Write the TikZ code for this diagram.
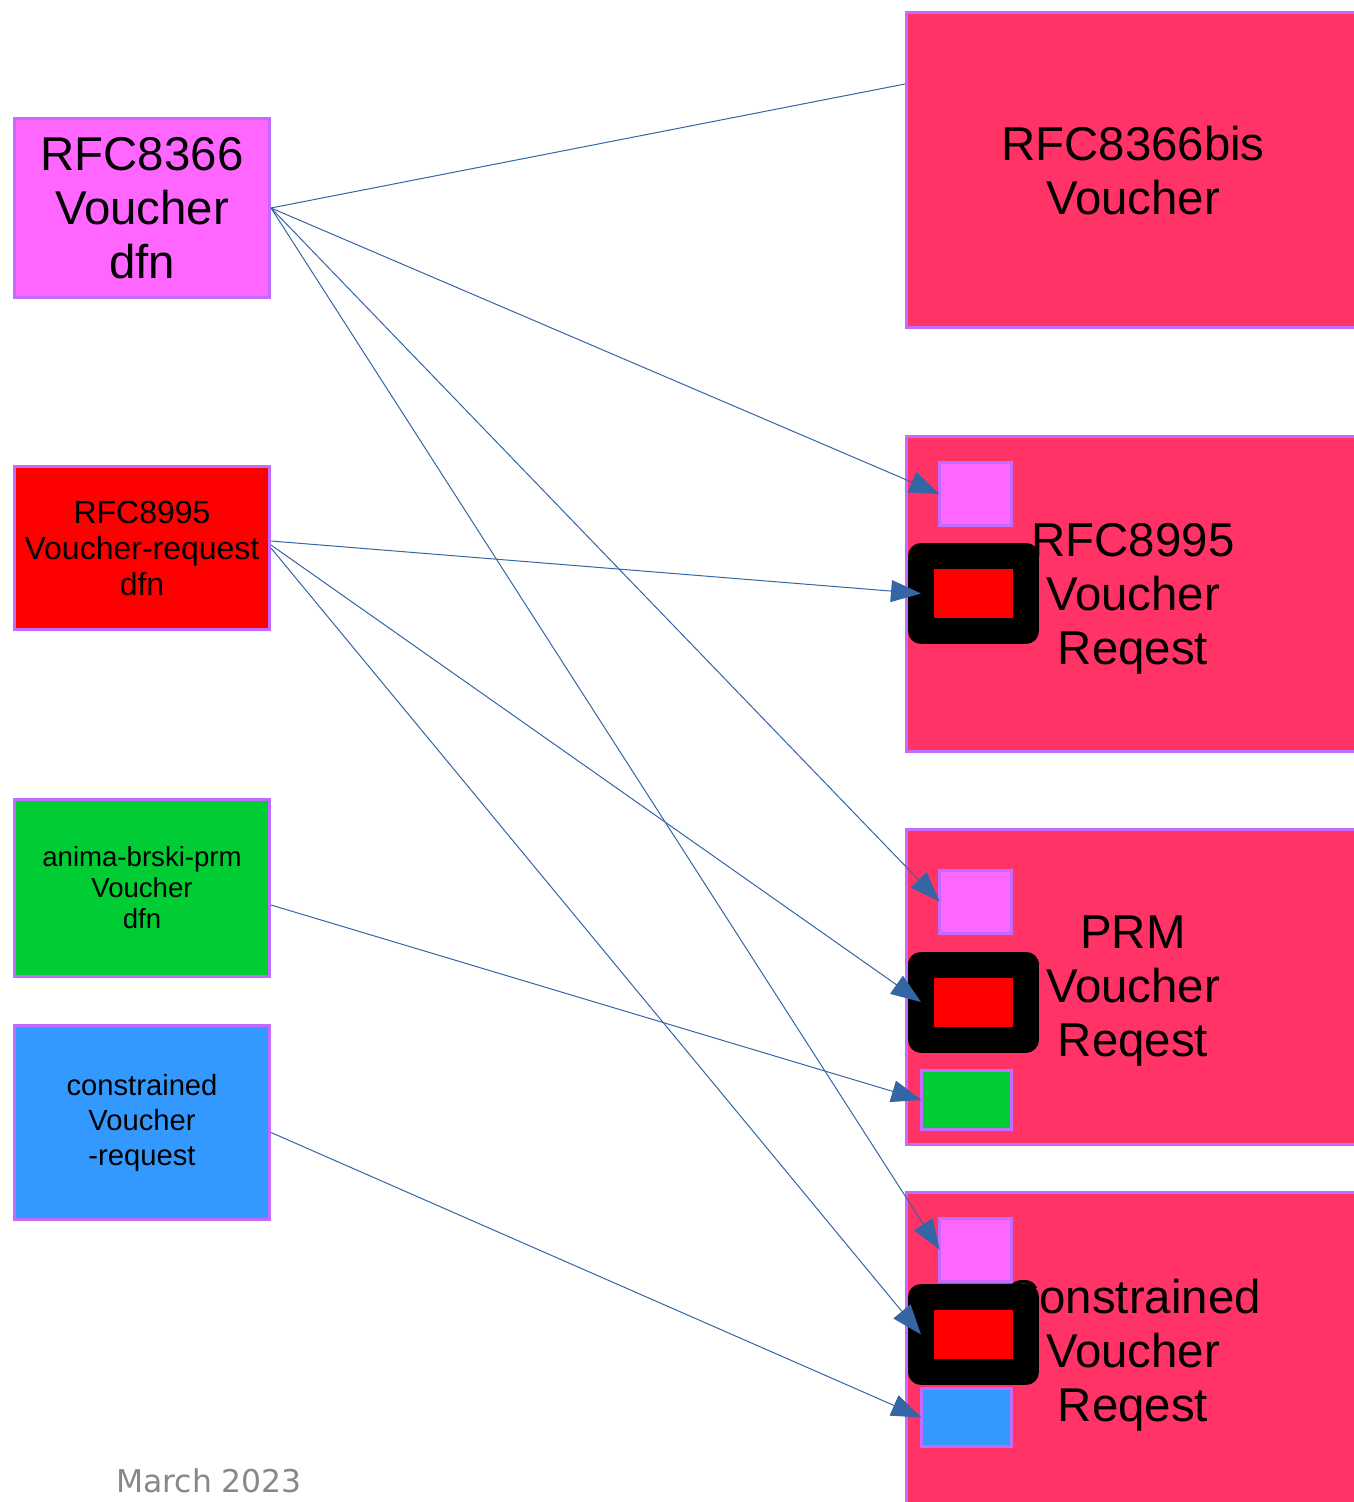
\documentclass[tikz,border=0pt]{standalone}
\usepackage{fontspec}
\setmainfont{Liberation Sans}
\newfontfamily\datefont{DejaVu Sans}
\usetikzlibrary{arrows.meta}
\definecolor{edgepurple}{HTML}{C46BFF}
\definecolor{dfnpink}{HTML}{FF66FF}
\definecolor{dfngreen}{HTML}{00CC33}
\definecolor{dfnblue}{HTML}{3399FF}
\definecolor{specrose}{HTML}{FF3366}
\definecolor{linkblue}{HTML}{3465A4}
\definecolor{dategray}{HTML}{888888}
\tikzstyle{dfn}=[
   rectangle,
   draw=edgepurple,
   line width=1.5pt,
   align=center,
   inner sep=0pt,
   minimum width=127.5pt
]
\tikzstyle{spec}=[
   rectangle,
   draw=edgepurple,
   line width=1.5pt,
   fill=specrose,
   align=center,
   text depth=0pt,
   minimum width=226.5pt,
   minimum height=157.5pt,
   font=\fontsize{23.7}{27}\selectfont
]
\tikzstyle{slotbox}=[
   rectangle,
   draw=edgepurple,
   line width=1.5pt,
   inner sep=0pt,
   outer sep=0pt
]
\tikzstyle{redframe}=[
   rectangle,
   draw=black,
   line width=13pt,
   line join=round,
   fill=red,
   inner sep=0pt,
   outer sep=0pt,
   minimum width=52.5pt,
   minimum height=37.5pt
]
\tikzstyle{link}=[
   draw=linkblue,
   line width=0.5pt
]

\begin{document}
\begin{tikzpicture}[
         x=0.5pt, y=-0.5pt,
         >={Triangle[length=15pt,width=11pt]}
      ]
      \useasboundingbox (0,0) rectangle (1353,1502);

      % definitions on the left
      \node (v8366) [dfn, fill=dfnpink, minimum height=89.5pt,
         font=\fontsize{23.7}{27}\selectfont] at (142,208) {
         RFC8366\\Voucher\\dfn
      };
      \node (vr8995) [dfn, fill=red, minimum height=81.5pt,
         font=\fontsize{16}{18}\selectfont] at (142,548) {
         RFC8995\\Voucher-request\\dfn
      };
      \node (prm) [dfn, fill=dfngreen, minimum height=88.5pt,
         font=\fontsize{13.8}{15.5}\selectfont] at (142,888) {
         anima-brski-prm\\Voucher\\dfn
      };
      \node (cvr) [dfn, fill=dfnblue, minimum height=97pt,
         font=\fontsize{14.6}{17.5}\selectfont] at (142,1122.5) {
         constrained\\Voucher\\-request
      };

      % specifications on the right
      \node (bis) [spec] at (1133,170) {RFC8366bis\\Voucher};
      \node (bisvr) [spec] at (1133,593.5) {RFC8995\\Voucher\\Reqest};
      \node (prmvr) [spec] at (1133,986.5) {PRM\\Voucher\\Reqest};
      \node (cvrr) [spec] at (1133,1350) {Constrained\\Voucher\\Reqest};

      \node (bisvrpink) [slotbox, fill=dfnpink, minimum width=36pt,
         minimum height=31.5pt] at (975.5,494) {};
      \node (bisvrred) [redframe] at (973.5,593.5) {};

      \node (prmvrpink) [slotbox, fill=dfnpink, minimum width=36pt,
         minimum height=31.5pt] at (975.5,901.5) {};
      \node (prmvrred) [redframe] at (973.5,1002) {};
      \node (prmvrgreen) [slotbox, fill=dfngreen, minimum width=45pt,
         minimum height=29.5pt] at (966.5,1100) {};

      \node (cvrrpink) [slotbox, fill=dfnpink, minimum width=36pt,
         minimum height=31.5pt] at (975.5,1249.5) {};
      \node (cvrrred) [redframe] at (973.5,1334.5) {};
      \node (cvrrblue) [slotbox, fill=dfnblue, minimum width=45pt,
         minimum height=29pt] at (966.5,1417.5) {};

      \node (date) [anchor=base, text=dategray,
         font=\datefont\fontsize{15.7}{18}\selectfont] at (209,1492) {March 2023};

      \path[link]
      (v8366.east) edge ([yshift=-36.5pt]bis.north west);

      \path[->]

      (v8366.east) edge[link] (bisvrpink.west)
                   edge[link] (prmvrpink.west)
                   edge[link] (cvrrpink.west)

      ([yshift=3.5pt]vr8995.east) edge[link] (bisvrred.west)
      ([yshift=1.5pt]vr8995.east) edge[link] (prmvrred.west)
      (vr8995.east) edge[link] (cvrrred.west)

      ([yshift=-8.5pt]prm.east) edge[link] (prmvrgreen.west)

      ([yshift=-5pt]cvr.east) edge[link] (cvrrblue.west)
      ;

   \end{tikzpicture}
\end{document}
